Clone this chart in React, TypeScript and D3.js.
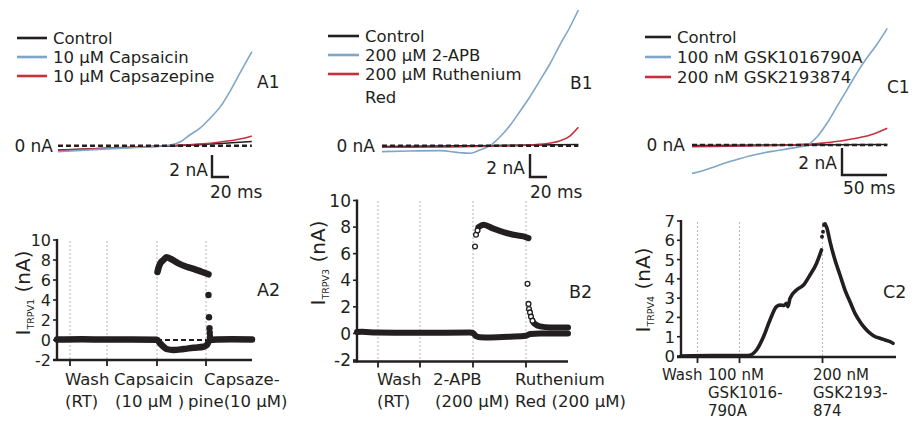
import React from 'react';
import * as d3 from 'd3';

type P = [number, number];

// ------------------------------------------------------------------ data
// Top traces: [time (ms), current (nA)]
const a1Names = ['Control', '10 μM Capsaicin', '10 μM Capsazepine'];
const a1Control: P[] = [[0, -0.4], [49, -0.25], [108, -0.07], [167, 0.1], [228, 0.38]];
const a1Capsaicin: P[] = [[0, -0.55], [49, -0.33], [108, -0.09], [132, 0.06], [144, 0.36], [155, 0.97], [167, 1.6], [179, 2.5], [191, 3.55], [202, 4.9], [214, 6.6], [228, 8.55]];
const a1Capsazepine: P[] = [[0, -0.45], [49, -0.27], [108, -0.07], [132, 0], [167, 0.15], [191, 0.34], [208, 0.52], [220, 0.7], [228, 0.88]];

const b1Names = ['Control', '200 μM 2-APB', '200 μM Ruthenium', 'Red'];
const b1Control: P[] = [[0, -0.07], [115, 0], [231, 0.1]];
const b1APB: P[] = [[0, -0.52], [33, -0.46], [68, -0.43], [92, -0.61], [104, -0.66], [115, -0.37], [127, 0], [139, 0.78], [151, 1.8], [162, 2.95], [174, 4.26], [186, 5.7], [198, 7.17], [209, 8.73], [221, 10.3], [231, 11.8]];
const b1RR: P[] = [[0, -0.14], [80, -0.11], [139, -0.03], [174, 0.06], [198, 0.23], [209, 0.41], [221, 0.84], [231, 1.6]];

const c1Names = ['Control', '100 nM GSK1016790A', '200 nM GSK2193874'];
const c1Control: P[] = [[0, -0.04], [217, 0.04]];
const c1GSK101: P[] = [[0, -2.1], [10, -1.95], [20, -1.73], [42, -1.23], [64, -0.81], [87, -0.49], [109, -0.25], [128, 0], [139, 0.61], [150, 1.61], [161, 2.84], [172, 4.07], [183, 5.31], [194, 6.42], [205, 7.41], [217, 8.64]];
const c1GSK219: P[] = [[0, -0.12], [64, -0.07], [109, 0], [142, 0.12], [176, 0.42], [198, 0.74], [217, 1.24]];

const scaleA1 = { nA: 2, ms: 20 };
const scaleB1 = { nA: 2, ms: 20 };
const scaleC1 = { nA: 2, ms: 50 };

// Bottom time courses: [time (s), current (nA)]
const a2YTicks = [-2, 0, 2, 4, 6, 8, 10];
const a2Events = [26, 100, 200, 298];
const a2Lower: P[] = [[0, 0.05], [50, 0.08], [100, 0.04], [150, 0.05], [200, 0.02], [206, -0.33], [213, -0.67], [219, -0.9], [233, -1.0], [253, -0.9], [273, -0.77], [293, -0.67], [300, -0.5], [303, -0.17], [306, 0], [320, 0.05], [350, 0.08], [390, 0.06]];
const a2Upper: P[] = [[201, 6.8], [203, 7.2], [207, 7.7], [213, 8.0], [219, 8.27], [229, 8.07], [243, 7.67], [259, 7.33], [276, 7.07], [289, 6.83], [303, 6.57]];
const a2Drop: P[] = [[303, 4.5], [304, 2.27], [305, 1.17], [305.5, 0.73], [306, 0.33]];
const a2Zero: P[] = [[200, 0], [298, 0]];
const a2Labels1 = ['Wash', 'Capsaicin', 'Capsaze-'];
const a2Labels2 = ['(RT)', '(10 μM )', 'pine(10 μM)'];

const b2YTicks = [-2, 0, 2, 4, 6, 8, 10];
const b2Events = [42, 126, 232, 338];
const b2Lower: P[] = [[0, 0.1], [10, 0.12], [40, 0.06], [126, 0.05], [226, 0.06], [232, 0.02], [238, -0.2], [246, -0.28], [266, -0.3], [306, -0.25], [338, -0.18], [346, -0.05], [366, 0], [422, 0]];
const b2Rise: P[] = [[236, 6.54], [238, 7.42], [241, 7.75]];
const b2Upper: P[] = [[243, 8.0], [253, 8.18], [273, 7.88], [293, 7.62], [313, 7.42], [333, 7.3], [343, 7.17]];
const b2Drop: P[] = [[341, 3.73], [343, 2.22], [344, 1.84], [346, 1.58], [348, 1.26], [351, 0.96]];
const b2Tail: P[] = [[353, 0.82], [356, 0.71], [366, 0.53], [386, 0.45], [422, 0.45]];
const b2Labels1 = ['Wash', '2-APB', 'Ruthenium'];
const b2Labels2 = ['(RT)', '(200 μM)', 'Red (200 μM)'];

const c2YTicks = [0, 1, 2, 3, 4, 5, 6, 7];
const c2Events = [33, 117, 283];
const c2Rise: P[] = [[0, 0], [60, 0.02], [134, 0.02], [151, 0.31], [165, 1.0], [178, 1.87], [191, 2.56], [198, 2.64], [206, 2.62], [211, 2.73], [214, 2.56], [218, 2.99], [231, 3.42], [245, 3.68], [258, 4.2], [271, 4.8], [281, 5.5]];
const c2Jump: P[] = [[282, 6.18], [284, 6.44], [286, 6.79], [288, 6.85]];
const c2Decay: P[] = [[290, 6.75], [292, 6.62], [298, 5.93], [308, 4.98], [318, 4.2], [328, 3.42], [338, 2.81], [348, 2.21], [358, 1.78], [368, 1.44], [378, 1.18], [388, 1.0], [398, 0.92], [408, 0.83], [418, 0.74], [424, 0.66]];
const c2Labels1 = ['Wash', '100 nM', '200 nM'];
const c2Labels2 = ['', 'GSK1016-', 'GSK2193-'];
const c2Labels3 = ['', '790A', '874'];

// ------------------------------------------------------------------ style
const FONT = "'DejaVu Sans', sans-serif";
const INK = '#231f20';
const BLUE = '#7ea6c9';
const RED = '#c8303f';
const GRID = '#b5b5b5';

const mk = (xs: any, ys: any, curve: any = d3.curveMonotoneX) =>
  d3.line<P>().x(d => xs(d[0])).y(d => ys(d[1])).curve(curve);

// ------------------------------------------------------------------ top panel
function TopPanel(props: {
  x0: number; pxMs: number; y0: number; pxNa: number; endMs: number;
  series: { d: P[]; c: string }[]; names: string[]; legColors: string[];
  legX: number; legLineW: number; legYs: number[]; textYs: number[];
  zeroLabelX: number; tag: string; tagX: number; tagY: number;
  bar: { nA: number; ms: number }; barX: number; barY: number;
  naLabel: [number, number]; msLabel: [number, number]; msText: string;
}) {
  const p = props;
  const xs = d3.scaleLinear().domain([0, p.endMs]).range([p.x0, p.x0 + p.endMs * p.pxMs]);
  const ys = d3.scaleLinear().domain([0, 1]).range([p.y0, p.y0 - p.pxNa]);
  const line = mk(xs, ys);
  const barH = ys(0) - ys(p.bar.nA);
  const barW = xs(p.bar.ms) - xs(0);
  return (
    <g fontFamily={FONT} fill={INK} fontSize={17}>
      {p.names.map((n, i) => (
        <text key={n} x={p.legX + p.legLineW + 6} y={p.textYs[i]} fontSize={16.5}>{n}</text>
      ))}
      {p.legColors.map((c, i) => (
        <line key={i} x1={p.legX} x2={p.legX + p.legLineW} y1={p.legYs[i]} y2={p.legYs[i]} stroke={c} strokeWidth={2.6} />
      ))}
      <text x={p.zeroLabelX} y={p.y0 + 6} textAnchor="end">0 nA</text>
      <text x={p.tagX} y={p.tagY}>{p.tag}</text>
      {p.series.map((s, i) => (
        <path key={i} d={line(s.d) || ''} fill="none" stroke={s.c} strokeWidth={1.6} />
      ))}
      <line x1={xs(0)} x2={xs(p.endMs)} y1={ys(0)} y2={ys(0)} stroke={INK} strokeWidth={2.6} strokeDasharray="5,3" />
      <path d={`M${p.barX},${p.barY - barH}V${p.barY}H${p.barX + barW}`} fill="none" stroke={INK} strokeWidth={2.4} />
      <text x={p.naLabel[0]} y={p.naLabel[1]} textAnchor="end">{p.bar.nA} nA</text>
      <text x={p.msLabel[0]} y={p.msLabel[1]}>{p.msText}</text>
    </g>
  );
}

// ------------------------------------------------------------------ bottom panel
function YLabel(props: { x: number; y: number; sub: string }) {
  return (
    <text transform={`translate(${props.x},${props.y}) rotate(-90)`} textAnchor="middle" fontSize={20} fontFamily={FONT} fill={INK}>
      I<tspan fontSize={9.5} dy={4}>{props.sub}</tspan><tspan dy={-4}> (nA)</tspan>
    </text>
  );
}

function Axes(props: { xs: any; ys: any; yTicks: number[]; events: number[]; axisY: number; xEnd: number; tickFont: number; gridTop: number }) {
  const { xs, ys, yTicks, events, axisY, tickFont } = props;
  const ax = xs.range()[0];
  return (
    <g>
      {events.map(t => (
        <line key={'g' + t} x1={xs(t)} x2={xs(t)} y1={props.gridTop} y2={axisY} stroke={GRID} strokeWidth={1} strokeDasharray="2,2" />
      ))}
      <line x1={ax} x2={ax} y1={ys(yTicks[yTicks.length - 1]) - 1} y2={axisY + 1} stroke={INK} strokeWidth={2.4} />
      <line x1={ax - 4} x2={props.xEnd} y1={axisY} y2={axisY} stroke={INK} strokeWidth={2.4} />
      {yTicks.map(v => (
        <g key={'y' + v}>
          <line x1={ax - 4} x2={ax} y1={ys(v)} y2={ys(v)} stroke={INK} strokeWidth={1.6} />
          <text x={ax - 6} y={ys(v) + tickFont * 0.36} textAnchor="end" fontSize={tickFont} fontFamily={FONT} fill={INK}>{v}</text>
        </g>
      ))}
      {events.map(t => (
        <line key={'t' + t} x1={xs(t)} x2={xs(t)} y1={axisY} y2={axisY + 6} stroke={INK} strokeWidth={1.8} />
      ))}
    </g>
  );
}

export default function App() {
  // A2
  const xA2 = d3.scaleLinear().domain([0, 390]).range([57, 252]);
  const yA2 = d3.scaleLinear().domain([-2, 10]).range([360, 240]);
  const lA2 = mk(xA2, yA2);
  // B2
  const xB2 = d3.scaleLinear().domain([0, 422]).range([357, 568]);
  const yB2 = d3.scaleLinear().domain([-2, 10]).range([360, 200.5]);
  const lB2 = mk(xB2, yB2);
  // C2
  const xC2 = d3.scaleLinear().domain([0, 430]).range([681, 896]);
  const yC2 = d3.scaleLinear().domain([0, 7]).range([356, 221]);
  const lC2 = mk(xC2, yC2);

  const a2LX = [65, 114, 204];
  const a2LX2 = [65, 115, 188];
  const b2LX = [377, 433, 515];
  const b2LX2 = [377, 435, 515];
  const c2LX = [662, 708, 813];

  return (
    <svg width={920} height={433} viewBox="0 0 920 433" style={{ position: 'absolute', left: 0, top: 0, background: '#fff' }}>
      <rect width={920} height={433} fill="#fff" />
      <TopPanel x0={58} pxMs={0.85} y0={145.7} pxNa={11} endMs={228}
        series={[{ d: a1Control, c: INK }, { d: a1Capsazepine, c: RED }, { d: a1Capsaicin, c: BLUE }]}
        names={a1Names} legColors={[INK, BLUE, RED]} legX={17} legLineW={30} legYs={[38, 57, 76]} textYs={[44, 63, 82]}
        zeroLabelX={53} tag="A1" tagX={257} tagY={88}
        bar={scaleA1} barX={212} barY={177} naLabel={[208, 176]} msLabel={[210, 198]} msText="20 ms" />
      <TopPanel x0={382} pxMs={0.85} y0={145.7} pxNa={11.5} endMs={231}
        series={[{ d: b1Control, c: INK }, { d: b1RR, c: RED }, { d: b1APB, c: BLUE }]}
        names={b1Names} legColors={[INK, BLUE, RED]} legX={328} legLineW={31} legYs={[36, 55, 74]} textYs={[42, 61, 80, 103]}
        zeroLabelX={375} tag="B1" tagX={570} tagY={89}
        bar={scaleB1} barX={530} barY={177} naLabel={[525, 174]} msLabel={[530, 198]} msText="20 ms" />
      <TopPanel x0={692} pxMs={0.9} y0={145} pxNa={13.5} endMs={217}
        series={[{ d: c1Control, c: INK }, { d: c1GSK219, c: RED }, { d: c1GSK101, c: BLUE }]}
        names={c1Names} legColors={[INK, BLUE, RED]} legX={645} legLineW={26} legYs={[37, 57, 77]} textYs={[43, 63, 83]}
        zeroLabelX={685} tag="C1" tagX={887} tagY={93}
        bar={scaleC1} barX={842} barY={175} naLabel={[837, 169]} msLabel={[843, 194]} msText="50 ms" />

      {/* A2 */}
      <Axes xs={xA2} ys={yA2} yTicks={a2YTicks} events={a2Events} axisY={360} xEnd={252} tickFont={16} gridTop={241} />
      <path d={lA2(a2Zero) || ''} stroke={INK} strokeWidth={2.2} strokeDasharray="5,3" fill="none" />
      <path d={lA2(a2Lower) || ''} stroke={INK} strokeWidth={6.5} fill="none" strokeLinecap="round" strokeLinejoin="round" />
      <path d={lA2(a2Upper) || ''} stroke={INK} strokeWidth={6.5} fill="none" strokeLinecap="round" strokeLinejoin="round" />
      {a2Drop.map((d, i) => <circle key={i} cx={xA2(d[0])} cy={yA2(d[1])} r={3.2} fill={INK} />)}
      <YLabel x={30} y={293} sub="TRPV1" />
      <text x={257} y={296} fontFamily={FONT} fontSize={17.5} fill={INK}>A2</text>
      <g fontFamily={FONT} fontSize={16.5} fill={INK}>
        {a2Labels1.map((s, i) => <text key={'a' + i} x={a2LX[i]} y={385}>{s}</text>)}
        {a2Labels2.map((s, i) => <text key={'b' + i} x={a2LX2[i]} y={407}>{s}</text>)}
      </g>

      {/* B2 */}
      <Axes xs={xB2} ys={yB2} yTicks={b2YTicks} events={b2Events} axisY={361.5} xEnd={568} tickFont={17} gridTop={201} />
      <path d={lB2(b2Lower) || ''} stroke={INK} strokeWidth={6} fill="none" strokeLinecap="round" strokeLinejoin="round" />
      <path d={lB2(b2Upper) || ''} stroke={INK} strokeWidth={6} fill="none" strokeLinecap="round" strokeLinejoin="round" />
      <path d={lB2(b2Tail) || ''} stroke={INK} strokeWidth={6} fill="none" strokeLinecap="round" strokeLinejoin="round" />
      {[...b2Rise, ...b2Drop].map((d, i) => <circle key={i} cx={xB2(d[0])} cy={yB2(d[1])} r={2.4} fill="#fff" stroke={INK} strokeWidth={1.3} />)}
      <YLabel x={325} y={263} sub="TRPV3" />
      <text x={569} y={298} fontFamily={FONT} fontSize={17.5} fill={INK}>B2</text>
      <g fontFamily={FONT} fontSize={16.5} fill={INK}>
        {b2Labels1.map((s, i) => <text key={'a' + i} x={b2LX[i]} y={385}>{s}</text>)}
        {b2Labels2.map((s, i) => <text key={'b' + i} x={b2LX2[i]} y={407}>{s}</text>)}
      </g>

      {/* C2 */}
      <Axes xs={xC2} ys={yC2} yTicks={c2YTicks} events={c2Events} axisY={357} xEnd={896} tickFont={16.5} gridTop={222} />
      <path d={lC2(c2Rise) || ''} stroke={INK} strokeWidth={3.6} fill="none" strokeLinecap="round" strokeLinejoin="round" />
      <path d={lC2(c2Decay) || ''} stroke={INK} strokeWidth={3.6} fill="none" strokeLinecap="round" strokeLinejoin="round" />
      {c2Jump.map((d, i) => <circle key={i} cx={xC2(d[0])} cy={yC2(d[1])} r={2} fill={INK} />)}
      <YLabel x={650} y={290} sub="TRPV4" />
      <text x={883} y={298} fontFamily={FONT} fontSize={17.5} fill={INK}>C2</text>
      <g fontFamily={FONT} fontSize={15} fill={INK}>
        {c2Labels1.map((s, i) => <text key={'a' + i} x={c2LX[i]} y={380}>{s}</text>)}
        {c2Labels2.map((s, i) => <text key={'b' + i} x={c2LX[i]} y={398}>{s}</text>)}
        {c2Labels3.map((s, i) => <text key={'c' + i} x={c2LX[i]} y={416}>{s}</text>)}
      </g>
    </svg>
  );
}
